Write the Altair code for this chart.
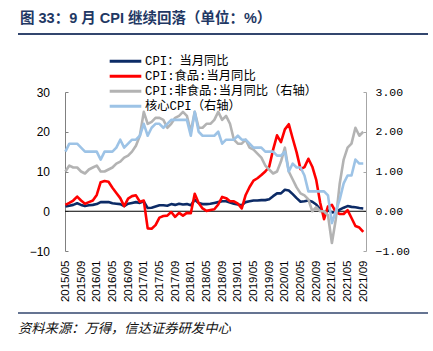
import altair as alt
import pandas as pd

# ---------------- data ----------------
months = [f"{y}/{m:02d}" for y in range(2015, 2022) for m in range(1, 13)]
months = months[months.index("2015/05"):months.index("2021/09") + 1]

cpi = [1.2, 1.4, 1.6, 2.0, 1.6, 1.3, 1.5, 1.6,
       1.8, 2.3, 2.3, 2.3, 2.0, 1.9, 1.8, 1.3, 1.9, 2.1, 2.3, 2.1,
       2.5, 0.8, 0.9, 1.2, 1.5, 1.5, 1.4, 1.8, 1.6, 1.9, 1.7, 1.8,
       1.5, 2.9, 2.1, 1.8, 1.8, 1.9, 2.1, 2.3, 2.5, 2.5, 2.2, 1.9,
       1.7, 1.5, 2.3, 2.5, 2.7, 2.7, 2.8, 2.8, 3.0, 3.8, 4.5, 4.5,
       5.4, 5.2, 4.3, 3.3, 2.4, 2.5, 2.7, 2.4, 1.7, 0.5, -0.5, 0.2,
       -0.3, -0.2, 0.4, 0.9, 1.3, 1.1, 1.0, 0.8, 0.7]

food = [1.6, 2.1, 2.7, 3.7, 2.7, 1.9, 2.3, 2.7,
        4.1, 7.3, 7.6, 7.4, 5.9, 4.6, 3.3, 1.3, 3.2, 3.8, 4.0, 2.4,
        2.7, -4.3, -4.4, -3.5, -1.6, -1.2, -1.1, -0.2, -1.4, -0.4, -1.1, -0.4,
        -0.5, 4.4, 2.1, 0.7, 0.1, 0.3, 0.5, 1.7, 3.6, 3.3, 2.5, 2.5,
        1.9, 0.7, 4.1, 6.1, 7.7, 8.3, 9.1, 10.0, 11.2, 15.5, 19.1, 17.4,
        20.6, 21.9, 18.3, 14.8, 10.6, 11.1, 13.2, 11.2, 7.9, 2.2, -2.0, 1.2,
        1.6, -0.2, -0.7, -0.7, 0.3, -1.7, -3.7, -4.1, -5.2]

nonfood = [1.0, 1.15, 1.1, 1.1, 1.0, 0.95, 1.05, 1.1,
           1.15, 1.0, 1.0, 1.05, 1.1, 1.2, 1.25, 1.35, 1.4, 1.5, 1.65, 1.9,
           2.5, 2.2, 2.25, 2.35, 2.35, 2.3, 2.1, 2.2, 2.35, 2.4, 2.5, 2.4,
           2.0, 2.5, 2.1, 2.1, 2.2, 2.2, 2.3, 2.5, 2.3, 2.4, 2.2, 1.8,
           1.7, 1.7, 1.8, 1.6, 1.55, 1.45, 1.35, 1.15, 1.05, 0.95, 1.0, 1.25,
           1.6, 1.0, 0.8, 0.6, 0.45, 0.4, 0.3, 0.0, 0.1, 0.0, 0.0, -0.1,
           -0.8, -0.2, 0.7, 1.3, 1.6, 1.7, 2.1, 1.9, 2.0]

core = [1.5, 1.7, 1.7, 1.7, 1.6, 1.5, 1.5, 1.5,
        1.5, 1.3, 1.5, 1.5, 1.5, 1.6, 1.8, 1.6, 1.7, 1.8, 1.8, 1.9,
        2.2, 1.9, 2.1, 2.2, 2.2, 2.1, 2.2, 2.3, 2.3, 2.3, 2.3, 2.3,
        1.9, 2.5, 2.0, 1.9, 1.9, 1.9, 1.9, 2.0, 1.7, 1.8, 1.8, 1.8,
        1.9, 1.8, 1.8, 1.7, 1.6, 1.6, 1.6, 1.5, 1.5, 1.5, 1.4, 1.4,
        1.5, 1.0, 1.2, 1.1, 1.1, 0.9, 0.5, 0.5, 0.5, 0.5, 0.5, 0.4,
        -0.3, 0.0, 0.3, 0.7, 0.9, 0.9, 1.3, 1.2, 1.2]

names = ["CPI：当月同比", "CPI:食品:当月同比", "CPI:非食品:当月同比（右轴）", "核心CPI（右轴）"]
colors = ["#0C2B66", "#FF0000", "#B3B3B3", "#9DC3E6"]
tick_labels = months[::4]

title_text = "图 33：9 月 CPI 继续回落（单位：%）"
source_text = "资料来源：万得，信达证券研发中心"

rows = []
for name, vals in zip(names, [cpi, food, nonfood, core]):
    for i, (m, v) in enumerate(zip(months, vals)):
        rows.append({"idx": i, "month": m, "series": name, "value": v})
df = pd.DataFrame(rows)

# ---------------- encodings ----------------
label_arr = "[" + ",".join(f"'{t}'" for t in tick_labels) + "]"
x_enc = alt.X(
    "idx:Q",
    scale=alt.Scale(domain=[-0.1, 76.7], nice=False, zero=False),
    axis=alt.Axis(values=list(range(0, 77, 4)), labelExpr=f"{label_arr}[round(datum.value/4)]",
                  labelAngle=270, domain=False, ticks=False, grid=False, labelPadding=9,
                  labelFont="Liberation Sans", labelFontSize=11.5, labelColor="#000000", title=None),
)

color_enc = alt.Color(
    "series:N",
    scale=alt.Scale(domain=names, range=colors),
    legend=alt.Legend(title=None, orient="none", legendX=43, legendY=-38, direction="vertical",
                      symbolType="stroke", symbolSize=1000, symbolStrokeWidth=3,
                      clipHeight=14.5, rowPadding=0, padding=0, labelOffset=2, labelLimit=500,
                      labelFont="Liberation Mono, Noto Sans CJK SC", labelFontSize=12.3,
                      labelColor="#000000"),
)

left_axis = alt.Axis(orient="left", values=[-10, 0, 10, 20, 30], grid=False, title=None,
                     domainColor="#808080", tickColor="#808080", tickSize={"expr": "-3"},
                     labelPadding=18.5, labelFont="Liberation Sans", labelFontSize=12,
                     labelColor="#000000")
left_scale = alt.Scale(domain=[-10, 30], nice=False, zero=False)
y_left = alt.Y("value:Q", scale=left_scale, axis=left_axis)
y_right = alt.Y(
    "value:Q",
    scale=alt.Scale(domain=[-1, 3], nice=False, zero=False),
    axis=alt.Axis(orient="right", values=[-1, 0, 1, 2, 3], format=".2f", grid=False, title=None,
                  domainColor="#A6A6A6", tickColor="#A6A6A6", tickSize={"expr": "-3"},
                  labelPadding=12, labelFont="Liberation Mono", labelFontSize=11.5,
                  labelColor="#000000"),
)

base = alt.Chart(df)


def series_line(name, y):
    return base.transform_filter(alt.datum.series == name).mark_line(
        strokeWidth=2.6, strokeJoin="round").encode(x=x_enc, y=y, color=color_enc)


zero_rule = alt.Chart(pd.DataFrame({"value": [0]})).mark_rule(color="#000000", strokeWidth=1).encode(
    y=alt.Y("value:Q", scale=left_scale, axis=left_axis))

left = alt.layer(zero_rule, series_line(names[0], y_left), series_line(names[1], y_left))
right = alt.layer(series_line(names[2], y_right), series_line(names[3], y_right))

one = pd.DataFrame({"a": [0]})
title_mark = alt.Chart(pd.DataFrame({"t": [title_text]})).mark_text(
    align="left", baseline="middle", font="Liberation Sans, Noto Sans CJK SC", fontSize=14.5,
    fontWeight="bold", color="#1F3864").encode(text="t:N", x=alt.value(-45), y=alt.value(-73.5))
source_mark = alt.Chart(pd.DataFrame({"t": [source_text]})).mark_text(
    align="left", baseline="middle", font="Noto Sans CJK SC", fontSize=13.3,
    fontStyle="italic", color="#111111").encode(text="t:N", x=alt.value(-47), y=alt.value(237))
top_line = alt.Chart(one).mark_rule(color="#32466E", strokeWidth=2).encode(
    x=alt.value(-47), x2=alt.value(363), y=alt.value(-58))
bottom_line = alt.Chart(one).mark_rule(color="#32466E", strokeWidth=1.5).encode(
    x=alt.value(-47), x2=alt.value(363), y=alt.value(221))

chart = alt.layer(left, right, title_mark, source_mark, top_line, bottom_line).resolve_scale(
    y="independent"
).properties(
    width=301, height=159,
    padding={"left": 65, "top": 92, "right": 67, "bottom": 100},
    autosize=alt.AutoSizeParams(type="none"),
).configure_view(stroke=None)

chart.save("out.html", embed_options={"renderer": "svg", "actions": False})
